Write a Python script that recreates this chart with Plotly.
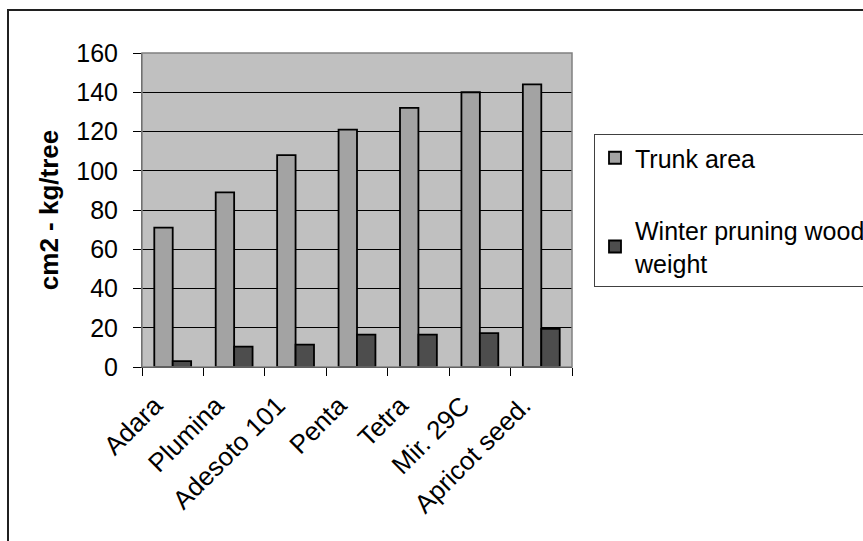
import plotly.graph_objects as go

categories = ["Adara", "Plumina", "Adesoto 101", "Penta", "Tetra", "Mir. 29C", "Apricot seed."]
trunk_area = [71, 89, 108, 121, 132, 140, 144]
winter_wood = [3, 10.4, 11.4, 16.5, 16.5, 17.3, 19.4]
y_ticks = [0, 20, 40, 60, 80, 100, 120, 140, 160]

W, H = 863, 541
L, R, T, B = 142, 291, 53, 174
pw, ph = W - L - R, H - T - B

FAM = "Liberation Sans, Arial, sans-serif"

fig = go.Figure()
fig.add_trace(go.Bar(
    x=categories, y=trunk_area, name="Trunk area", legendgroup="a",
    marker=dict(color="#A3A3A3", line=dict(color="black", width=1.8)),
))
fig.add_trace(go.Bar(
    x=categories, y=winter_wood, name="Winter pruning wood<br>weight", legendgroup="b",
    marker=dict(color="#4D4D4D", line=dict(color="black", width=1.8)),
))

fig.update_layout(
    width=W, height=H,
    margin=dict(l=L, r=R, t=T, b=B, autoexpand=False),
    paper_bgcolor="white", plot_bgcolor="#C0C0C0",
    font=dict(family=FAM, size=24, color="black"),
    barmode="group", bargap=0.4, bargroupgap=0,
    showlegend=True,
    legend=dict(
        x=(594 - L) / pw, y=(H - B - 134) / ph, xanchor="left", yanchor="top",
        bgcolor="white", bordercolor="#404040", borderwidth=1,
        font=dict(family=FAM, size=25, color="black"),
        traceorder="grouped", tracegroupgap=37,
    ),
    xaxis=dict(
        type="category", tickangle=-45, tickson="boundaries",
        ticks="outside", ticklen=8, tickcolor="black",
        showline=True, linecolor="black", linewidth=1,
        showgrid=False, tickfont=dict(family=FAM, size=26, color="black"),
        ticklabelstandoff=12, ticklabelshift=-18,
    ),
    yaxis=dict(
        range=[0, 160], tickvals=y_ticks, ticks="outside", ticklen=8,
        tickcolor="black", showline=True, linecolor="#404040", linewidth=1,
        showgrid=True, gridcolor="black", gridwidth=1, zeroline=False,
        tickfont=dict(family=FAM, size=25, color="black"), ticklabelstandoff=10,
        title=dict(text="<b>cm2 - kg/tree</b>", font=dict(family=FAM, size=26, color="black"), standoff=10),
    ),
    shapes=[
        dict(type="rect", xref="paper", yref="paper", x0=0, x1=1, y0=0, y1=1,
             line=dict(color="#808080", width=1.5), fillcolor="rgba(0,0,0,0)", layer="above"),
        dict(type="rect", xref="paper", yref="paper",
             x0=(8 - L) / pw, x1=(W + 20 - L) / pw,
             y0=(H - B - (H + 20)) / ph, y1=(H - B - 10) / ph,
             line=dict(color="#202020", width=2), fillcolor="rgba(0,0,0,0)"),
    ],
)

fig.write_html("out.html")
